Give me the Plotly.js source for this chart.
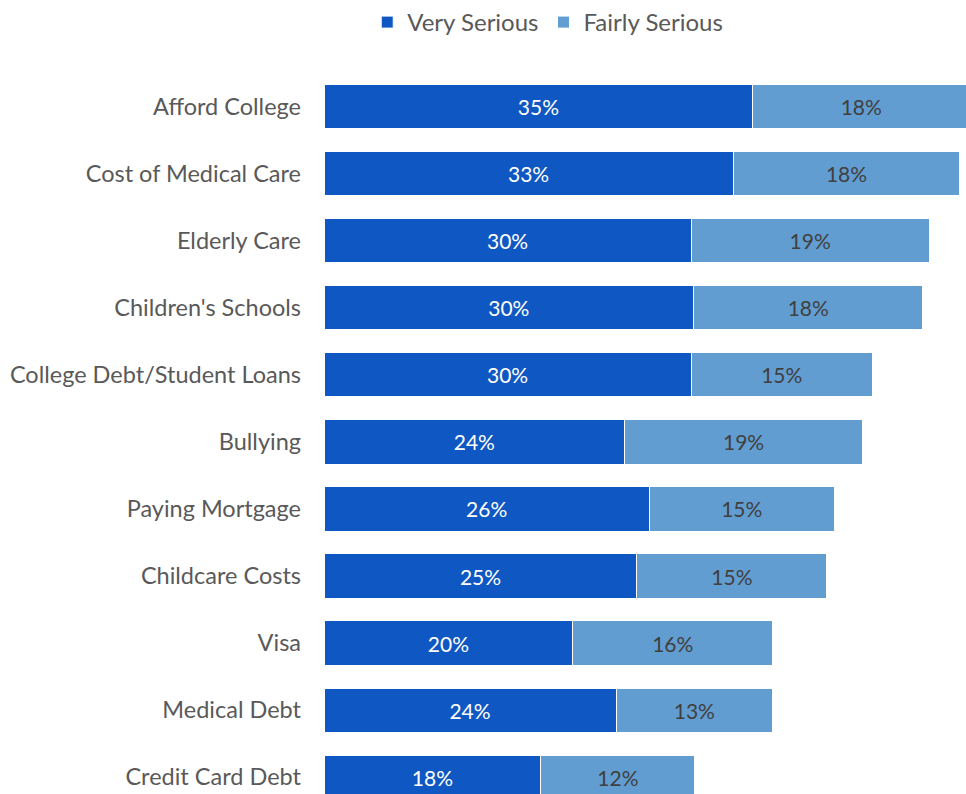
<!DOCTYPE html>
<html><head><meta charset="utf-8">
<script src="https://cdn.plot.ly/plotly-3.0.1.min.js"></script>
<style>html,body{margin:0;padding:0;background:#fff}#chart{width:966px;height:794px}</style>
</head><body><div id="chart"></div>
<script>
const categories = ["Afford College","Cost of Medical Care","Elderly Care","Children's Schools","College Debt/Student Loans","Bullying","Paying Mortgage","Childcare Costs","Visa","Medical Debt","Credit Card Debt"];
const verySerious = [34.8,33.2,29.8,30.0,29.8,24.4,26.4,25.4,20.2,23.7,17.6];
const fairlySerious = [17.6,18.4,19.3,18.6,14.7,19.3,15.0,15.4,16.2,12.7,12.5];
const veryLabels = ["35%","33%","30%","30%","30%","24%","26%","25%","20%","24%","18%"];
const fairlyLabels = ["18%","18%","19%","18%","15%","19%","15%","15%","16%","13%","12%"];

const font = "Lato, 'Gill Sans', 'Open Sans', sans-serif";
const traces = [
  {type:'bar', orientation:'h', name:'Very Serious', y:categories, x:verySerious,
   text:veryLabels, texttemplate:'%{text}', textposition:'inside', insidetextanchor:'middle',
   textfont:{color:'#ffffff', size:21, family:font},
   marker:{color:'#0F57C2', line:{color:'#ffffff', width:1}}, hoverinfo:'skip'},
  {type:'bar', orientation:'h', name:'Fairly Serious', y:categories, x:fairlySerious,
   text:fairlyLabels, texttemplate:'%{text}', textposition:'inside', insidetextanchor:'middle',
   textfont:{color:'#404040', size:21, family:font},
   marker:{color:'#629DD1', line:{color:'#ffffff', width:1}}, hoverinfo:'skip'}
];
const layout = {
  width:966, height:794, barmode:'stack', bargap:0.34,
  margin:{l:324, r:0, t:72.5, b:0},
  paper_bgcolor:'#fff', plot_bgcolor:'#fff',
  font:{family:font, color:'#595959', size:23.5},
  showlegend:true,
  legend:{orientation:'h', x:0.567, xref:'container', xanchor:'center', y:1, yanchor:'top', yref:'container',
          font:{size:24, color:'#595959', family:font}, itemwidth:30, traceorder:'normal'},
  xaxis:{range:[0,52.1], visible:false, fixedrange:true},
  yaxis:{type:'category', range:[10.25,-0.5], showgrid:false, zeroline:false, showline:false,
         ticks:'', ticklabelstandoff:22, tickfont:{size:23.5, color:'#595959', family:font}}
};
Plotly.newPlot('chart', traces, layout, {displayModeBar:false, staticPlot:true});
</script></body></html>
